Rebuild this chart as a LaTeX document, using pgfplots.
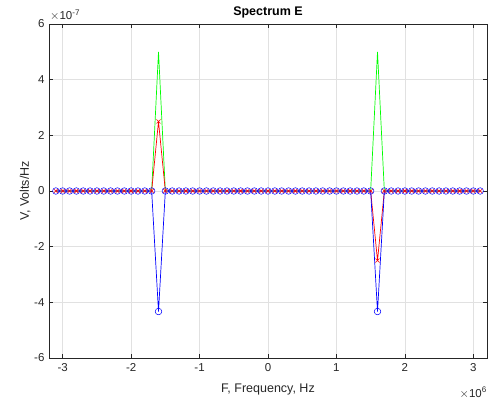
\documentclass[border=0pt]{standalone}
\usepackage{pgfplots}
\pgfplotsset{compat=1.18}
\usepackage{pgfplotstable}
\usepackage{fontspec}
\setmainfont{Liberation Sans}
\definecolor{axgray}{RGB}{38,38,38}
\definecolor{gridgray}{RGB}{225,225,225}
\pgfplotstableread{
x g r b
-3.1e6 0 0 0
-3.0e6 0 0 0
-2.9e6 0 0 0
-2.8e6 0 0 0
-2.7e6 0 0 0
-2.6e6 0 0 0
-2.5e6 0 0 0
-2.4e6 0 0 0
-2.3e6 0 0 0
-2.2e6 0 0 0
-2.1e6 0 0 0
-2.0e6 0 0 0
-1.9e6 0 0 0
-1.8e6 0 0 0
-1.7e6 0 0 0
-1.6e6 5e-7 2.5e-7 -4.33e-7
-1.5e6 0 0 0
-1.4e6 0 0 0
-1.3e6 0 0 0
-1.2e6 0 0 0
-1.1e6 0 0 0
-1.0e6 0 0 0
-0.9e6 0 0 0
-0.8e6 0 0 0
-0.7e6 0 0 0
-0.6e6 0 0 0
-0.5e6 0 0 0
-0.4e6 0 0 0
-0.3e6 0 0 0
-0.2e6 0 0 0
-0.1e6 0 0 0
0 0 0 0
0.1e6 0 0 0
0.2e6 0 0 0
0.3e6 0 0 0
0.4e6 0 0 0
0.5e6 0 0 0
0.6e6 0 0 0
0.7e6 0 0 0
0.8e6 0 0 0
0.9e6 0 0 0
1.0e6 0 0 0
1.1e6 0 0 0
1.2e6 0 0 0
1.3e6 0 0 0
1.4e6 0 0 0
1.5e6 0 0 0
1.6e6 5e-7 -2.5e-7 -4.33e-7
1.7e6 0 0 0
1.8e6 0 0 0
1.9e6 0 0 0
2.0e6 0 0 0
2.1e6 0 0 0
2.2e6 0 0 0
2.3e6 0 0 0
2.4e6 0 0 0
2.5e6 0 0 0
2.6e6 0 0 0
2.7e6 0 0 0
2.8e6 0 0 0
2.9e6 0 0 0
3.0e6 0 0 0
3.1e6 0 0 0
}\spec
\begin{document}
\begin{tikzpicture}
\begin{axis}[
  scale only axis, width=438pt, height=334pt,
  xmin=-3.2e6, xmax=3.2e6, ymin=-6e-7, ymax=6e-7,
  xtick={-3e6,-2e6,-1e6,0,1e6,2e6,3e6},
  xticklabels={-3,-2,-1,0,1,2,3},
  ytick={-6e-7,-4e-7,-2e-7,0,2e-7,4e-7,6e-7},
  yticklabels={-6,-4,-2,0,2,4,6},
  scaled ticks=false,
  tick align=inside,
  major tick length=4.5pt,
  grid=major,
  major grid style={gridgray, line width=0.5pt},
  axis line style={axgray, line width=0.6pt},
  tick style={axgray, line width=0.6pt},
  ticklabel style={font=\fontsize{11.5}{13}\selectfont, text=axgray},
  xticklabel style={yshift=-2pt},
  yticklabel style={xshift=-1pt},
  xlabel={F, Frequency, Hz},
  ylabel={V, Volts/Hz},
  label style={font=\fontsize{12.5}{14}\selectfont, text=axgray},
  xlabel style={yshift=-5pt},
  ylabel style={yshift=-3pt},
  title={Spectrum E},
  title style={font=\bfseries\fontsize{12.5}{14}\selectfont, yshift=-4pt},
  clip=false,
]
\addplot[color={rgb,1:red,0;green,1;blue,0}, line width=0.7pt, mark=none] table[x=x,y=g]{\spec};
\addplot[color={rgb,1:red,1;green,0;blue,0}, line width=0.7pt, mark=x, mark size=2.8pt, mark options={line width=0.55pt}] table[x=x,y=r]{\spec};
\addplot[color={rgb,1:red,0;green,0;blue,1}, line width=0.7pt, mark=o, mark size=3.3pt, mark options={line width=0.5pt}] table[x=x,y=b]{\spec};
\coordinate (ll) at (rel axis cs:0,0);
\coordinate (ur) at (rel axis cs:1,1);
\node[anchor=south west, inner sep=0pt, font=\fontsize{11.5}{13}\selectfont, text=axgray] at ([xshift=1pt,yshift=3pt]rel axis cs:0,1) {$\times$10\textsuperscript{-7}};
\node[anchor=north east, inner sep=0pt, font=\fontsize{11.5}{13}\selectfont, text=axgray] at ([xshift=0pt,yshift=-29pt]rel axis cs:1,0) {$\times$10\textsuperscript{6}};
\end{axis}
\pgfresetboundingbox
\path ([shift={(-49pt,-47pt)}]ll) rectangle ([shift={(1pt,24pt)}]ur);
\end{tikzpicture}
\end{document}
